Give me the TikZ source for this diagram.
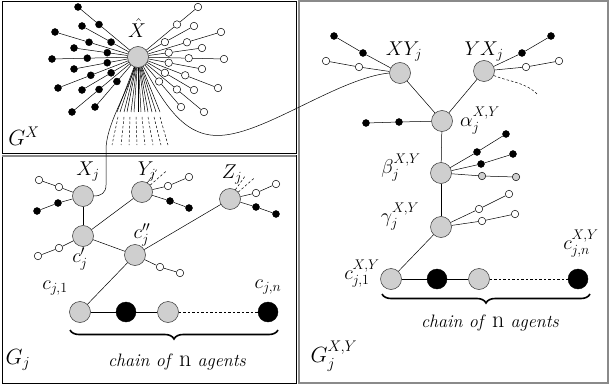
\RequirePackage{fix-cm}
\documentclass[tikz,border=0pt]{standalone}
\usepackage{amsmath,amssymb}
\usepackage{xcolor}
\usepackage{tikz}
\usetikzlibrary{calc,decorations.pathreplacing}
\definecolor{agentgray}{HTML}{CFCFCF}
\definecolor{framegray}{HTML}{8A8A8A}

\begin{document}
\begin{tikzpicture}[
  x=1pt,y=-1pt,
  font=\fontsize{20}{24}\selectfont,
  agent/.style={circle,draw=black!80,fill=agentgray,minimum size=21pt,inner sep=0pt,line width=0.5pt},
  bagent/.style={circle,draw=black,fill=black,minimum size=20pt,inner sep=0pt},
  bleaf/.style={circle,draw=black,fill=black,minimum size=7pt,inner sep=0pt},
  wleaf/.style={circle,draw=black,fill=white,minimum size=7.5pt,inner sep=0pt,line width=0.5pt},
  gleaf/.style={circle,draw=black,fill=agentgray,minimum size=7.5pt,inner sep=0pt,line width=0.5pt},
  link/.style={draw=black,line width=0.5pt},
  hint/.style={draw=black,dashed,dash pattern=on 2.5pt off 2pt,line width=0.5pt},
  chainbrace/.style={decorate,decoration={brace,mirror,amplitude=9pt},line width=1.6pt},
  chaintext/.style={font=\fontsize{18}{21}\selectfont\itshape},
  panel/.style={font=\fontsize{22}{26}\selectfont}
]
  \useasboundingbox (0,0) rectangle (610,385);

  % frames
  \draw[line width=0.8pt] (2,1) rectangle (296,153);
  \draw[line width=0.8pt] (2,155) rectangle (296,383);
  \draw[framegray,line width=1.4pt] (299,1) rectangle (608,383);
  \draw[framegray,line width=1.2pt] (2,156) -- (296,156);

  % G^X
  \node[agent] (xh) at (138,57) {};
  \node (lxh) at (137,28) {$\hat{X}$};
  \foreach \dx/\dy/\t [count=\i] in {-60/-50/.65,-83/-25/.59,-56/-31/.48,-64/-9/.48,-86/2/.59,
                                     -64/12/.48,-80/31/.59,-56/33/.48,-66/55/.59,-43/50/.49}{
    \node[bleaf] (bo\i) at ($(xh)+(\dx,\dy)$) {};
    \node[bleaf] (bi\i) at ($(xh)+\t*(\dx,\dy)$) {};
    \draw[link] (xh) -- (bi\i) -- (bo\i);
    \node[wleaf] (wo\i) at ($(xh)+({-(\dx)},\dy)$) {};
    \node[wleaf] (wi\i) at ($(xh)+\t*({-(\dx)},\dy)$) {};
    \draw[link] (xh) -- (wi\i) -- (wo\i);
  }
  \foreach \x [count=\i] in {117,120,124,127,131,134,138,141,145,148,152,156,160}{
    \coordinate (fan\i) at (\x,112);
    \draw[link] (xh) -- (fan\i);
  }
  \foreach \a/\b [count=\i] in {118/112,124/121,130/129,136/137,142/145,148/153,154/161,160/168}{
    \coordinate (ft\i) at (\a,117);
    \coordinate (fb\i) at (\b,145);
    \draw[hint] (ft\i) -- (fb\i);
  }
  \node[panel] (gx) at (24,136) {$G^X$};

  % G_j
  \node[agent] (xj) at (83,196) {};
  \node[agent] (yj) at (142,192) {};
  \node[agent] (zj) at (230,199) {};
  \node[agent] (cp) at (83,236) {};
  \node[agent] (cpp) at (135,255) {};
  \node[agent] (c1) at (80,312) {};
  \node[bagent] (c2) at (126,312) {};
  \node[agent] (c3) at (168,312) {};
  \node[bagent] (cn) at (268,312) {};

  \node (lxj) at (88,172) {$X_j$};
  \node (lyj) at (147,172) {$Y_j$};
  \node (lzj) at (232,175) {$Z_j$};
  \node (lcp) at (80,259) {$c'_j$};
  \node (lcpp) at (142,235) {$c''_j$};
  \node (lc1) at (55,288) {$c_{j,1}$};
  \node (lcn) at (268,287) {$c_{j,n}$};

  \draw[link] (xj) -- (cp);
  \draw[link] (cp) -- (yj);
  \draw[link] (cp) -- (cpp);
  \draw[link] (cpp) -- (zj);
  \draw[link] (cpp) -- (c1);
  \draw[link] (c1) -- (c2) -- (c3);
  \draw[hint] (c3) -- (cn);

  \node[wleaf] (xw1) at (59,187) {};
  \node[wleaf] (xw2) at (39,180) {};
  \node[bleaf] (xb1) at (58,203) {};
  \node[bleaf] (xb2) at (37,211) {};
  \draw[link] (xj) -- (xw1) -- (xw2);
  \draw[link] (xj) -- (xb1) -- (xb2);
  \node[wleaf] (yw1) at (168,186) {};
  \node[wleaf] (yw2) at (189,177) {};
  \node[bleaf] (yb1) at (170,201) {};
  \node[bleaf] (yb2) at (189,208) {};
  \draw[link] (yj) -- (yw1) -- (yw2);
  \draw[link] (yj) -- (yb1) -- (yb2);
  \draw[hint] (yj.60) -- ++(10,-14);
  \draw[hint] (yj.40) -- ++(16,-14);
  \node[wleaf] (zw1) at (256,193) {};
  \node[wleaf] (zw2) at (276,184) {};
  \node[bleaf] (zb1) at (256,207) {};
  \node[bleaf] (zb2) at (276,214) {};
  \draw[link] (zj) -- (zw1) -- (zw2);
  \draw[link] (zj) -- (zb1) -- (zb2);
  \draw[hint] (zj.60) -- ++(10,-14);
  \draw[hint] (zj.40) -- ++(16,-14);
  \node[wleaf] (pw1) at (59,248) {};
  \node[wleaf] (pw2) at (38,256) {};
  \draw[link] (cp) -- (pw1) -- (pw2);
  \node[wleaf] (qw1) at (160,267) {};
  \node[wleaf] (qw2) at (180,273) {};
  \draw[link] (cpp) -- (qw1) -- (qw2);

  \coordinate (bl) at (70,330);
  \coordinate (br) at (278,330);
  \draw[chainbrace] (bl) -- (br);
  \node[chaintext] (chain) at (177,362) {chain of \textup{\fontsize{24}{26}\selectfont n} agents};
  \node[panel] (gj) at (18,360) {$G_j$};

  % G_j^{X,Y}
  \node[agent] (xy) at (400,73) {};
  \node[agent] (yx) at (484,71) {};
  \node[agent] (al) at (442,121) {};
  \node[agent] (be) at (441,173) {};
  \node[agent] (ga) at (441,227) {};
  \node[agent] (d1) at (391,279) {};
  \node[bagent] (d2) at (437,279) {};
  \node[agent] (d3) at (479,279) {};
  \node[bagent] (dn) at (578,279) {};

  \node (lxy) at (404,52) {$XY_j$};
  \node (lyx) at (484,52) {$YX_j$};
  \node (lal) at (480,121) {$\alpha_j^{X,Y}$};
  \node (lbe) at (401,168) {$\beta_j^{X,Y}$};
  \node (lga) at (400,217) {$\gamma_j^{X,Y}$};
  \node (ld1) at (362,274) {$c_{j,1}^{X,Y}$};
  \node (ldn) at (581,244) {$c_{j,n}^{X,Y}$};

  \draw[link] (xy) -- (al);
  \draw[link] (yx) -- (al);
  \draw[link] (al) -- (be);
  \draw[link] (be) -- (ga);
  \draw[link] (ga) -- (d1);
  \draw[link] (d1) -- (d2) -- (d3);
  \draw[hint] (d3) -- (dn);

  \node[bleaf] (rb1) at (363,53) {};
  \node[bleaf] (rb2) at (334,36) {};
  \node[wleaf] (rw1) at (359,67) {};
  \node[wleaf] (rw2) at (326,61) {};
  \draw[link] (xy) -- (rb1) -- (rb2);
  \draw[link] (xy) -- (rw1) -- (rw2);
  \node[bleaf] (sb1) at (522,53) {};
  \node[bleaf] (sb2) at (551,36) {};
  \node[wleaf] (sw1) at (526,67) {};
  \node[wleaf] (sw2) at (559,61) {};
  \draw[link] (yx) -- (sb1) -- (sb2);
  \draw[link] (yx) -- (sw1) -- (sw2);
  \coordinate (yxend) at (537,94);
  \draw[hint] (yx.-25) .. controls (510,82) and (525,82) .. (yxend);
  \node[bleaf] (ab1) at (399,122) {};
  \node[bleaf] (ab2) at (366,123) {};
  \draw[link] (al) -- (ab1) -- (ab2);
  \node[bleaf] (eb1) at (477,152) {};
  \node[bleaf] (eb2) at (506,134) {};
  \node[bleaf] (eb3) at (481,164) {};
  \node[bleaf] (eb4) at (513,154) {};
  \node[gleaf] (eg1) at (482,176) {};
  \node[gleaf] (eg2) at (516,177) {};
  \draw[link] (be) -- (eb1) -- (eb2);
  \draw[link] (be) -- (eb3) -- (eb4);
  \draw[link] (be) -- (eg1) -- (eg2);
  \node[wleaf] (gw1) at (479,209) {};
  \node[wleaf] (gw2) at (509,194) {};
  \node[wleaf] (gw3) at (482,221) {};
  \node[wleaf] (gw4) at (515,214) {};
  \draw[link] (ga) -- (gw1) -- (gw2);
  \draw[link] (ga) -- (gw3) -- (gw4);

  \coordinate (cl) at (382,294);
  \coordinate (cr) at (590,294);
  \draw[chainbrace] (cl) -- (cr);
  \node[chaintext] (chainxy) at (490,323) {chain of \textup{\fontsize{24}{26}\selectfont n} agents};
  \node[panel] (gxy) at (334,356) {$G_j^{X,Y}$};

  % links between panels
  \draw[link] (xh) .. controls (126,95) and (106,125) .. (106,150) -- (106,185)
    .. controls (106,193) and (101,196) .. (xj.east);
  \draw[link] (xh) .. controls (165,105) and (185,140) .. (225,135)
    .. controls (270,130) and (340,78) .. (xy.west);
\end{tikzpicture}
\end{document}
